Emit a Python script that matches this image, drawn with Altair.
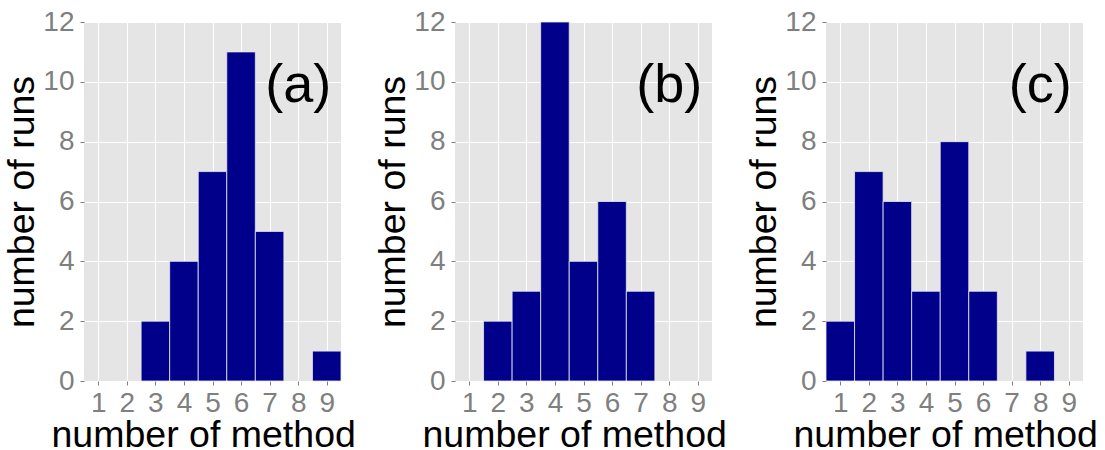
import altair as alt
import pandas as pd

methods = [1, 2, 3, 4, 5, 6, 7, 8, 9]
counts_a = [0, 0, 2, 4, 7, 11, 5, 0, 1]
counts_b = [0, 2, 3, 12, 4, 6, 3, 0, 0]
counts_c = [2, 7, 6, 3, 8, 3, 0, 1, 0]
panel_labels = ["(a)", "(b)", "(c)"]
label_x = [8, 8, 8]
label_y = [10, 10, 10]
y_ticks = [0, 2, 4, 6, 8, 10, 12]

FONT = "Liberation Sans"
BAR = "#00008B"
GRAY = "#7F7F7F"
PANEL_BG = "#E5E5E5"


def panel(counts, lab, lx, ly):
    df = pd.DataFrame({"m": methods, "n": counts})
    df = df[df["n"] > 0]
    xscale = alt.Scale(domain=[0.5, 9.5], nice=False, zero=False)
    yscale = alt.Scale(domain=[0, 12], nice=False)
    xaxis = alt.Axis(values=methods, title="number of method", grid=True,
                     gridColor="white", gridWidth=1.1, gridOpacity=1, domain=False,
                     tickColor=GRAY, tickSize=4, labelColor=GRAY,
                     labelFontSize=28, labelFont=FONT, labelPadding=4,
                     labelOverlap=False, labelFlush=False, labelBound=False,
                     titleFont=FONT, titleFontSize=37.5, titleFontWeight="normal",
                     titleColor="black", titleAlign="left", titleBaseline="alphabetic",
                     titleX=-33, titleY=65)
    yaxis = alt.Axis(values=y_ticks, title="number of runs", grid=True,
                     gridColor="white", gridWidth=1.1, gridOpacity=1, domain=False,
                     tickColor=GRAY, tickSize=4, labelColor=GRAY,
                     labelFontSize=28, labelFont=FONT, labelPadding=6,
                     labelOverlap=False, labelFlush=False, labelBound=False,
                     titleFont=FONT, titleFontSize=37.5, titleFontWeight="normal",
                     titleColor="black", titleAngle=270, titleAlign="center",
                     titleBaseline="alphabetic", titleX=-51, titleY=179.5)
    bars = alt.Chart(df).transform_calculate(
        x0="datum.m - 0.5", x1="datum.m + 0.5"
    ).mark_bar(color=BAR, stroke="#E8E8F0", strokeWidth=0.8).encode(
        x=alt.X("x0:Q", scale=xscale, axis=xaxis),
        x2="x1:Q",
        y=alt.Y("n:Q", scale=yscale, axis=yaxis),
        y2=alt.datum(0),
    )
    txt = alt.Chart(pd.DataFrame({"x": [lx], "y": [ly], "t": [lab]})).mark_text(
        font=FONT, fontSize=54, color="black", align="center",
        baseline="alphabetic", dy=20
    ).encode(
        x=alt.X("x:Q", scale=xscale, axis=xaxis),
        y=alt.Y("y:Q", scale=yscale, axis=yaxis),
        text="t:N",
    )
    return alt.layer(bars, txt).properties(
        width=257, height=359,
        view=alt.ViewBackground(fill=PANEL_BG, strokeWidth=0),
    )


chart = alt.hconcat(
    panel(counts_a, panel_labels[0], label_x[0], label_y[0]),
    panel(counts_b, panel_labels[1], label_x[1], label_y[1]),
    panel(counts_c, panel_labels[2], label_x[2], label_y[2]),
    spacing=114, bounds="flush",
).configure_view(
    fill=PANEL_BG, strokeWidth=0
).configure_axis(
    labelOverlap=False
).configure(
    background="white",
    padding={"left": 3, "top": 8, "right": 0, "bottom": 0},
)

chart.save("out.html", embed_options={"renderer": "svg", "actions": False})
